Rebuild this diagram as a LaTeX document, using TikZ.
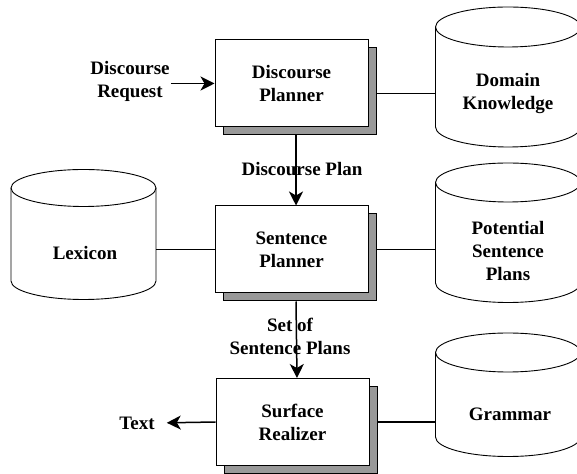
\documentclass[tikz,border=0pt]{standalone}
\usepackage{fontspec}
\setmainfont{Liberation Serif}
\usepackage{tikz}
\usetikzlibrary{
    positioning,  % For placing nodes relative to each other
    arrows.meta,  % For modern arrow tips
    shadows,      % For the grey copy behind each planner box
    calc          % For shifted coordinates
}

\begin{document}
\begin{tikzpicture}[
    x=1pt, y=1pt,
    % Global text settings (bold serif)
    every node/.style={font=\fontsize{19}{23}\selectfont\bfseries, align=center},
    % Style for the three processing boxes
    planner_box/.style={
        draw, fill=white, line width=1pt,
        minimum width=153pt, minimum height=87pt, inner sep=0pt,
        copy shadow={shadow xshift=8.5pt, shadow yshift=-8pt,
                     fill=black!40, draw=black, line width=1pt}
    },
    % Invisible body of each knowledge cylinder
    db_body/.style={
        rectangle, minimum width=145pt, inner sep=0pt, outer sep=0pt
    },
    db_line/.style={line width=0.9pt},
    % Plain connectors and arrows
    link/.style={line width=1.5pt},
    arrow_tip/.style={
        line width=1.5pt,
        -{Stealth[length=14pt, width=14pt, inset=4pt]}
    }
]
    \useasboundingbox (0,0) rectangle (577,473);

    % 1. The processing boxes
    \node[planner_box] (discourse_planner) at (291.5,389.5) {Discourse\\Planner};
    \node[planner_box] (sentence_planner)  at (291.5,223.5) {Sentence\\Planner};
    \node[planner_box] (surface_realizer)  at (292.5,51)    {Surface\\Realizer};

    % 2. The knowledge cylinders (body node, then its outline)
    \foreach \n/\cx/\ytop/\ybot/\ry in {domain/508/446/346/20, lexicon/83.5/285/192/18.5,
                                         plans/508/290.5/190/19.5, grammar/508/120.5/36/19.5} {
        \node[db_body, minimum height={(\ytop-\ybot)*1pt}] (\n) at (\cx,{(\ytop+\ybot)/2}) {};
        \draw[db_line] (\n.north west) -- (\n.south west)
            arc[start angle=180, end angle=360, x radius=72.5, y radius=\ry] -- (\n.north east);
        \draw[db_line] (\n.north) ellipse[x radius=72.5, y radius=\ry];
    }

    % 3. Texts inside the cylinders
    \node (domain_text)  at (508,379.5) {Domain\\Knowledge};
    \node (lexicon_text) at (85,220)    {Lexicon};
    \node (plans_text)   at (508,222)   {Potential\\Sentence\\Plans};
    \node (grammar_text) at (510,59)    {Grammar};

    % 4. Input, output and flow labels
    \node[inner sep=1pt] (request) at (130,392)   {Discourse\\Request};
    \node[inner sep=1pt] (text_out) at (137,50)   {Text};
    \node (plan_label) at (302,304)               {Discourse Plan};
    \node (set_label)  at (290,136.5)             {Set of\\Sentence Plans};

    % 5. Arrows along the pipeline
    \draw[arrow_tip] (request.east |- discourse_planner.west) -- (discourse_planner.west);
    \draw[arrow_tip] ([shift={(4.5,-8)}]discourse_planner.south) -- ([xshift=4.5pt]sentence_planner.north);
    \draw[arrow_tip] ([shift={(4.5,-8)}]sentence_planner.south) -- ([xshift=4.5pt]surface_realizer.north);
    \draw[arrow_tip, shorten >=11pt] (surface_realizer.west) -- (text_out.east);

    % 6. Links to the knowledge sources
    \draw[link] ([xshift=8.5pt]discourse_planner.east |- domain_text) -- (domain.west |- domain_text);
    \draw[link] (lexicon.east |- sentence_planner) -- (sentence_planner.west);
    \draw[link] ([xshift=8.5pt]sentence_planner.east) -- (plans.west |- sentence_planner);
    \draw[link] ([xshift=8.5pt]surface_realizer.east) -- (grammar.west |- surface_realizer);

\end{tikzpicture}
\end{document}
